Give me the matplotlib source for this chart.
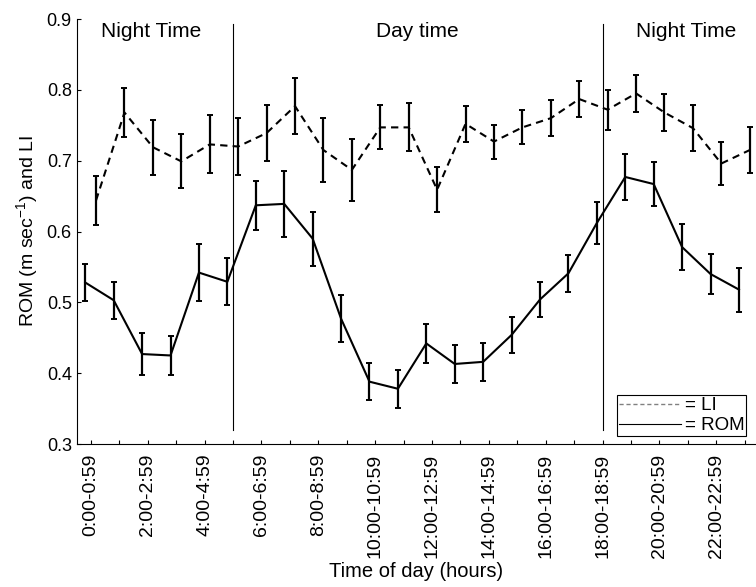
import numpy as np
import matplotlib
matplotlib.use("Agg")
import matplotlib.pyplot as plt
from matplotlib.lines import Line2D

plt.rcParams['font.family'] = ['Liberation Sans', 'DejaVu Sans']

hours = np.arange(24)
tick_labels = ["%d:00-%d:59" % (h, h) for h in range(0, 24, 2)]

# ROM (solid) mean and error
rom = [0.528, 0.503, 0.427, 0.425, 0.542, 0.529, 0.637, 0.639, 0.590, 0.477, 0.388, 0.378,
       0.442, 0.413, 0.416, 0.454, 0.504, 0.541, 0.612, 0.677, 0.667, 0.578, 0.540, 0.518]
rom_err = [0.026, 0.026, 0.030, 0.027, 0.040, 0.033, 0.035, 0.047, 0.038, 0.033, 0.026, 0.027,
           0.028, 0.027, 0.027, 0.025, 0.025, 0.026, 0.030, 0.032, 0.031, 0.032, 0.028, 0.031]

# LI (dashed) mean and error
li = [0.644, 0.768, 0.719, 0.699, 0.723, 0.720, 0.739, 0.777, 0.715, 0.687, 0.747, 0.747,
      0.659, 0.752, 0.727, 0.747, 0.760, 0.787, 0.772, 0.795, 0.768, 0.746, 0.696, 0.715]
li_err = [0.035, 0.034, 0.039, 0.038, 0.041, 0.040, 0.039, 0.040, 0.045, 0.044, 0.031, 0.034,
          0.032, 0.025, 0.024, 0.024, 0.025, 0.026, 0.028, 0.026, 0.026, 0.032, 0.031, 0.032]

periods = ["Night Time", "Day time", "Night Time"]
period_x = [2.1, 11.5, 20.95]
boundaries = [5, 18]

fig = plt.figure(figsize=(7.56, 5.87), dpi=100)
ax = fig.add_axes([0.1015, 0.2436, 0.8985, 0.724])

ax.errorbar(hours + 0.18, li, yerr=li_err, color='black', ls=(0, (3.5, 2.5)), lw=1.5,
            elinewidth=1.6, capsize=2.5, capthick=1.4)
ax.errorbar(hours - 0.2, rom, yerr=rom_err, color='black', ls='-', lw=1.5,
            elinewidth=1.6, capsize=2.5, capthick=1.4)

for b in boundaries:
    ax.plot([b, b], [0.32, 0.893], color='black', lw=0.8)

for px, txt in zip(period_x, periods):
    ax.text(px, 0.883, txt, ha='center', va='center', fontsize=15)

ax.set_xlim(-0.5, 23.4)
ax.set_ylim(0.3, 0.9)
ax.set_yticks(np.arange(0.3, 0.91, 0.1))
ax.set_yticklabels(["%.1f" % v for v in np.arange(0.3, 0.91, 0.1)], fontsize=13)
ax.set_xticks(hours, minor=True)
ax.set_xticks(range(0, 24, 2))
ax.set_xticklabels(tick_labels, rotation=90, fontsize=14)
ax.tick_params(which='both', direction='in', length=3, width=0.8)
ax.tick_params(axis='x', which='major', pad=7)
ax.spines['top'].set_visible(False)
ax.spines['right'].set_visible(False)

ax.set_xlabel("Time of day (hours)", fontsize=14.5, labelpad=3)
ax.set_ylabel("ROM (m sec$^{\\mathregular{-1}}$) and LI", fontsize=14)

handles = [Line2D([], [], color='gray', ls=(0, (3, 2)), lw=1),
           Line2D([], [], color='black', lw=0.8)]
leg = ax.legend(handles, ["= LI", "= ROM"], loc='lower right', bbox_to_anchor=(0.986, 0.018),
                fontsize=13.5, handlelength=3.3, handletextpad=0.2, labelspacing=0.15,
                borderpad=0.12, borderaxespad=0, fancybox=False, framealpha=1,
                edgecolor='black')
leg.get_frame().set_linewidth(0.8)

fig.savefig("out.png", dpi=100)
